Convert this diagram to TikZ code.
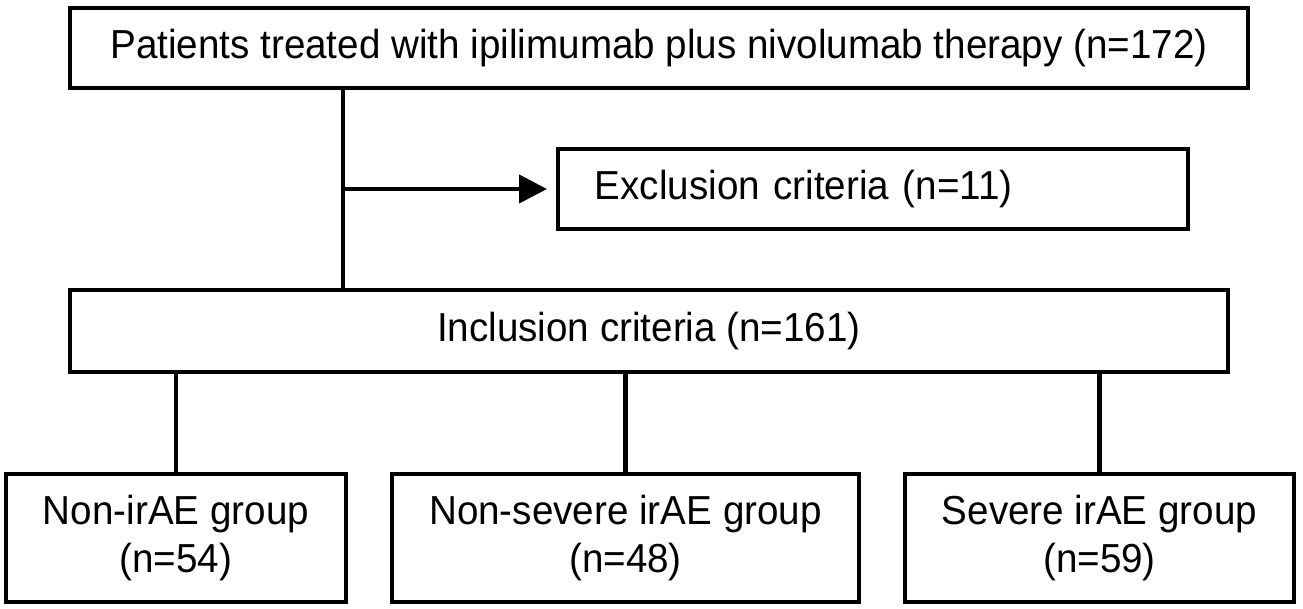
\documentclass[tikz,border=0pt]{standalone}
\usepackage{fontspec}
\setmainfont{Liberation Sans}[FakeStretch=0.953]
\usetikzlibrary{arrows.meta, positioning}

\begin{document}
\begin{tikzpicture}[
  x=0.5pt, y=-0.5pt,
  every node/.style={font=\fontsize{20.25}{24}\selectfont},
  flowbox/.style={draw, line width=1.9pt, inner sep=0pt, align=center},
  link/.style={draw, line width=2.1pt}
]
\useasboundingbox (0,0) rectangle (1303,609);
\node[flowbox, minimum width=589pt, minimum height=40pt] (patients) at (659,48)
  {Patients treated with ipilimumab plus nivolumab therapy (n=172)};
\node[flowbox, anchor=west, inner xsep=18.5pt, text width=278pt, align=left,
  minimum height=40pt] (excl) at (556,189) {Exclusion criteria (n=11)};
\node[flowbox, minimum width=579pt, minimum height=41pt] (incl) at (649,331)
  {Inclusion criteria (n=161)};
\node[flowbox, minimum width=170pt, minimum height=64pt] (nonirae) at (176,538)
  {Non-irAE group\\(n=54)};
\node[flowbox, minimum width=233.5pt, minimum height=64pt] (nonsevere) at (625.5,538)
  {Non-severe irAE group\\(n=48)};
\node[flowbox, minimum width=194.5pt, minimum height=64pt] (severe) at (1099.5,538)
  {Severe irAE group\\(n=59)};
\coordinate (split) at (343,189);

\draw[link] (split |- patients.south) -- (split |- incl.north);
\draw[link, -{Triangle[length=14pt, width=14pt]}, shorten >=4.5pt] (split) -- (excl.west);
\foreach \grp in {nonirae, nonsevere, severe}
  \draw[link] (incl.south -| \grp.north) -- (\grp.north);
\end{tikzpicture}
\end{document}
